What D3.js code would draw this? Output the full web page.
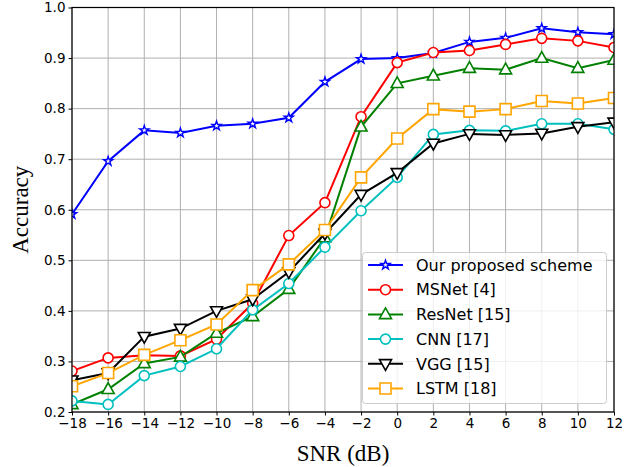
<!DOCTYPE html>
<html><head><meta charset="utf-8">
<script src="https://cdn.jsdelivr.net/npm/d3@7"></script>
<style>body{margin:0;background:#fff}svg{display:block}</style>
</head><body>
<script>
const snr = [-18,-16,-14,-12,-10,-8,-6,-4,-2,0,2,4,6,8,10,12];
const proposed = [0.591,0.696,0.757,0.752,0.766,0.770,0.782,0.853,0.898,0.900,0.910,0.932,0.940,0.959,0.951,0.947];
const msnet   = [0.281,0.307,0.312,0.311,0.344,0.415,0.549,0.614,0.784,0.891,0.911,0.915,0.927,0.939,0.934,0.921];
const resnet  = [0.215,0.245,0.296,0.309,0.356,0.389,0.443,0.545,0.764,0.850,0.865,0.880,0.877,0.900,0.880,0.896];
const cnn     = [0.222,0.215,0.272,0.290,0.325,0.402,0.454,0.526,0.598,0.664,0.749,0.757,0.756,0.770,0.770,0.759];
const vgg     = [0.263,0.277,0.349,0.365,0.400,0.423,0.477,0.553,0.630,0.673,0.731,0.750,0.748,0.751,0.764,0.773];
const lstm    = [0.251,0.277,0.313,0.342,0.373,0.441,0.492,0.560,0.664,0.741,0.799,0.794,0.799,0.815,0.810,0.821];
const seriesNames = ["Our proposed scheme","MSNet [4]","ResNet [15]","CNN [17]","VGG [15]","LSTM [18]"];
const xTicks = [-18,-16,-14,-12,-10,-8,-6,-4,-2,0,2,4,6,8,10,12];
const yTicks = [0.2,0.3,0.4,0.5,0.6,0.7,0.8,0.9,1.0];

const series = [
  {name:seriesNames[0], values:proposed, color:"#0000ff", marker:"star"},
  {name:seriesNames[1], values:msnet, color:"#ff0000", marker:"circle"},
  {name:seriesNames[2], values:resnet, color:"#008000", marker:"tri-up"},
  {name:seriesNames[3], values:cnn, color:"#00bfbf", marker:"circle"},
  {name:seriesNames[4], values:vgg, color:"#000000", marker:"tri-down"},
  {name:seriesNames[5], values:lstm, color:"#ffa500", marker:"square"}
];

const W=626,H=467;
const m={left:72,right:12,top:7.5,bottom:55};
const svg=d3.select("body").append("svg").attr("width",W).attr("height",H);
const x=d3.scaleLinear().domain([-18,12]).range([m.left,W-m.right]);
const y=d3.scaleLinear().domain([0.2,1.0]).range([H-m.bottom,m.top]);

svg.append("clipPath").attr("id","clip").append("rect")
  .attr("x",m.left).attr("y",m.top).attr("width",W-m.right-m.left).attr("height",H-m.bottom-m.top);

// grid
const g=svg.append("g");
g.selectAll(".gx").data(xTicks).join("line")
  .attr("x1",d=>x(d)).attr("x2",d=>x(d)).attr("y1",m.top).attr("y2",H-m.bottom)
  .attr("stroke","#b0b0b0").attr("stroke-width",1);
g.selectAll(".gy").data(yTicks).join("line")
  .attr("y1",d=>y(d)).attr("y2",d=>y(d)).attr("x1",m.left).attr("x2",W-m.right)
  .attr("stroke","#b0b0b0").attr("stroke-width",1);

function markerPath(type){
  if(type==="circle") return d3.symbol().type(d3.symbolCircle).size(Math.PI*5*5)();
  if(type==="square") return "M-5.5,-5.5H5.5V5.5H-5.5Z";
  if(type==="tri-up") return "M0,-6.5L6,4.2L-6,4.2Z";
  if(type==="tri-down") return "M0,6.5L6,-4.2L-6,-4.2Z";
  if(type==="star") return d3.symbol().type(d3.symbolStar).size(26)();
}

const plot=svg.append("g").attr("clip-path","url(#clip)");
const line=d3.line().x((d,i)=>x(snr[i])).y(d=>y(d));
series.forEach(s=>{
  const sg=plot.append("g");
  sg.append("path").attr("d",line(s.values)).attr("fill","none").attr("stroke",s.color).attr("stroke-width",2);
  sg.selectAll("path.mk").data(s.values).join("path").attr("class","mk")
    .attr("d",markerPath(s.marker))
    .attr("transform",(d,i)=>`translate(${x(snr[i])},${y(d)})`)
    .attr("fill","#fff").attr("stroke",s.color).attr("stroke-width",s.marker==="star"?1.4:1.6);
});

// frame
svg.append("rect").attr("x",m.left).attr("y",m.top).attr("width",W-m.right-m.left).attr("height",H-m.bottom-m.top)
  .attr("fill","none").attr("stroke","#000").attr("stroke-width",1.2);

// axes
const fmtX=d=>d<0?"\u2212"+Math.abs(d):String(d);
const xa=svg.append("g").attr("transform",`translate(0,${H-m.bottom})`)
  .call(d3.axisBottom(x).tickValues(xTicks).tickFormat(fmtX).tickSize(3.5).tickPadding(3));
const ya=svg.append("g").attr("transform",`translate(${m.left},0)`)
  .call(d3.axisLeft(y).tickValues(yTicks).tickFormat(d3.format(".1f")).tickSize(3.5).tickPadding(3));
[xa,ya].forEach(a=>{
  a.select(".domain").remove();
  a.selectAll("text").attr("font-family","DejaVu Sans").attr("font-size",13.5).attr("fill","#000");
  a.selectAll("line").attr("stroke","#000");
});

svg.append("text").attr("x",(m.left+W-m.right)/2).attr("y",461)
  .attr("text-anchor","middle").attr("font-family","Liberation Serif").attr("font-size",23).text("SNR (dB)");
svg.append("text").attr("transform",`translate(28,${(m.top+H-m.bottom)/2}) rotate(-90)`)
  .attr("text-anchor","middle").attr("font-family","Liberation Serif").attr("font-size",23).text("Accuracy");

// legend
const lg=svg.append("g");
lg.append("rect").attr("x",362.5).attr("y",252.5).attr("width",244).attr("height",151).attr("rx",3)
  .attr("fill","#fff").attr("fill-opacity",0.8).attr("stroke","#cccccc").attr("stroke-width",1);
series.forEach((s,i)=>{
  const yy=265+i*24.7;
  lg.append("line").attr("x1",368).attr("x2",403).attr("y1",yy).attr("y2",yy).attr("stroke",s.color).attr("stroke-width",2);
  lg.append("path").attr("d",markerPath(s.marker)).attr("transform",`translate(385.5,${yy})`)
    .attr("fill","#fff").attr("stroke",s.color).attr("stroke-width",s.marker==="star"?1.4:1.6);
  lg.append("text").attr("x",416).attr("y",yy).attr("dy","0.36em").attr("font-family","DejaVu Sans")
    .attr("font-size",16).attr("fill","#000").text(s.name);
});
</script>
</body></html>
